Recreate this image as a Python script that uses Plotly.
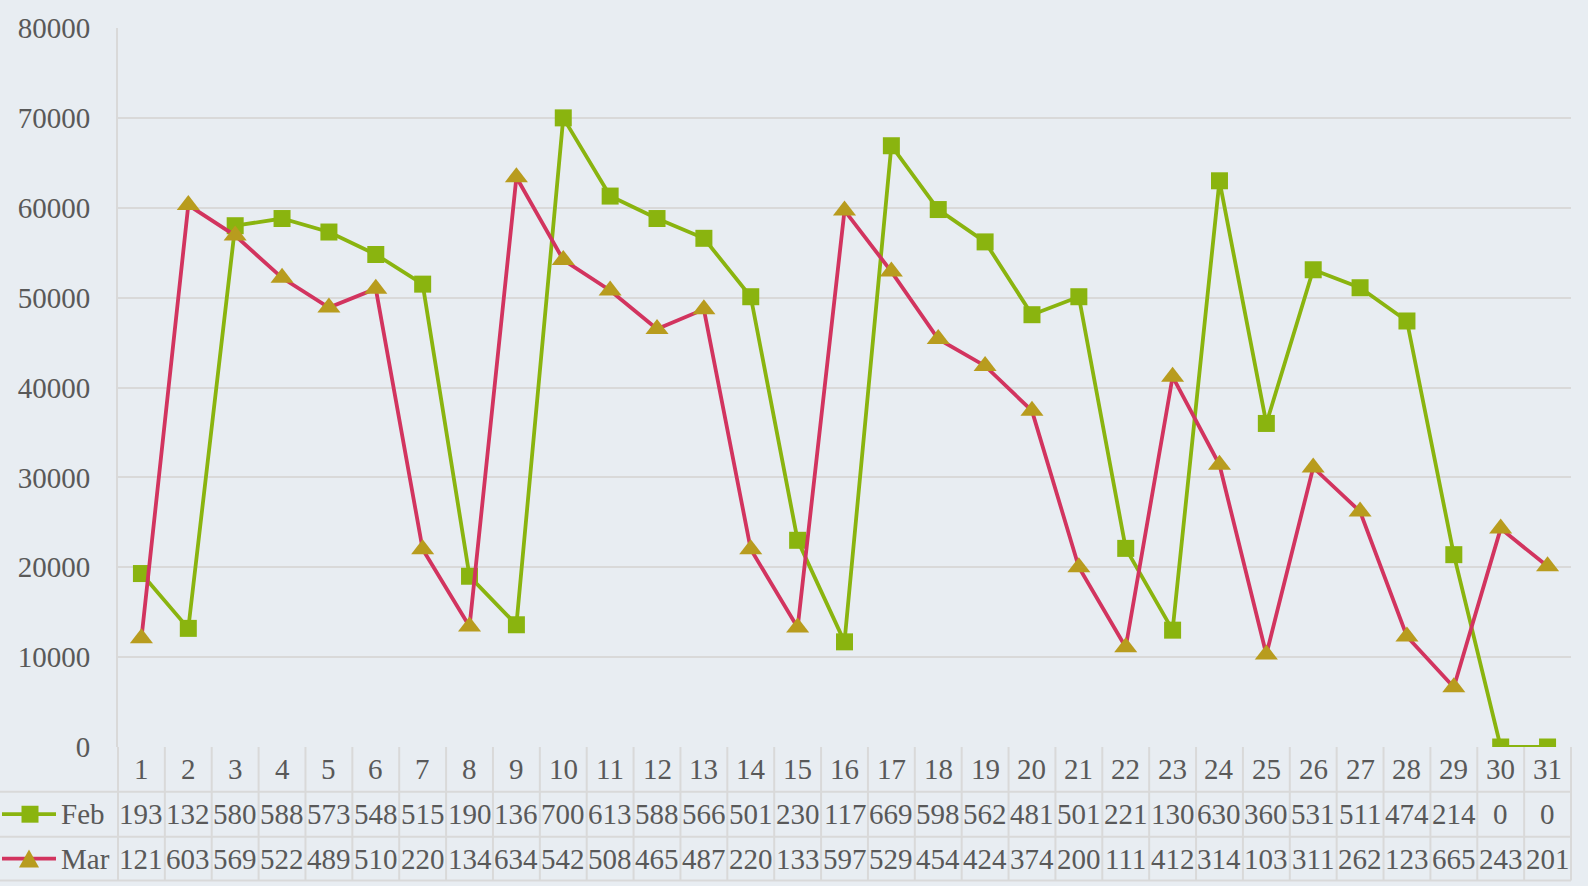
import plotly.graph_objects as go

days = list(range(1, 32))
feb = [19300, 13200, 58000, 58800, 57300, 54800, 51500, 19000, 13600, 70000,
       61300, 58800, 56600, 50100, 23000, 11700, 66900, 59800, 56200, 48100,
       50100, 22100, 13000, 63000, 36000, 53100, 51100, 47400, 21400, 0, 0]
mar = [12100, 60300, 56900, 52200, 48900, 51000, 22000, 13400, 63400, 54200,
       50800, 46500, 48700, 22000, 13300, 59700, 52900, 45400, 42400, 37400,
       20000, 11100, 41200, 31400, 10300, 31100, 26200, 12300, 6650, 24300, 20100]
series_names = ["Feb", "Mar"]

W, H = 1588, 886
L, R, T, B = 118, 17, 25, 139
PW, PH = W - L - R, H - T - B

def px(x):
    return (x - L) / PW

def py(y):
    return (H - B - y) / PH

GREEN = "#8AB40F"
RED = "#D2345F"
GOLD = "#B89C1E"
TEXT = "#595959"
GRID = "#D9D9D9"
BG = "#E8EDF2"
FONT = "Liberation Serif"
FS = 29

fig = go.Figure()
fig.add_trace(go.Scatter(x=days, y=feb, name="Feb", mode="lines+markers",
                         line=dict(color=GREEN, width=3.8),
                         marker=dict(symbol="square", size=17, color=GREEN)))
fig.add_trace(go.Scatter(x=days, y=mar, name="Mar", mode="lines+markers",
                         line=dict(color=RED, width=3.8),
                         marker=dict(symbol="triangle-up", size=20, color=GOLD)))

shapes = []
annotations = []
col_w = PW / 31
y0, y1, y2, y3 = 747, 792, 837, 881
# table vertical lines
for k in range(32):
    xx = L + k * col_w
    shapes.append(dict(type="line", xref="paper", yref="paper",
                       x0=px(xx), x1=px(xx), y0=py(y0), y1=py(y3),
                       line=dict(color=GRID, width=2)))
for yy in (y1, y2, y3):
    shapes.append(dict(type="line", xref="paper", yref="paper",
                       x0=px(0), x1=px(L + PW), y0=py(yy), y1=py(yy),
                       line=dict(color=GRID, width=2)))

rows = [(feb, (y1 + y2) / 2), (mar, (y2 + y3) / 2)]
for i, d in enumerate(days):
    annotations.append(dict(x=d, xref="x", y=py((y0 + y1) / 2), yref="paper",
                            xanchor="center", yanchor="middle",
                            text=str(d), showarrow=False,
                            font=dict(family=FONT, size=FS, color=TEXT)))
    for vals, yc in rows:
        annotations.append(dict(x=d, xref="x", y=py(yc), yref="paper",
                                xanchor="center", yanchor="middle",
                                text=str(vals[i])[:3], showarrow=False,
                                font=dict(family=FONT, size=FS, color=TEXT)))

# legend keys in table
for name, (vals, yc), col, mcol, sym in [("Feb", rows[0], GREEN, GREEN, "sq"),
                                         ("Mar", rows[1], RED, GOLD, "tri")]:
    shapes.append(dict(type="line", xref="paper", yref="paper",
                       x0=px(2), x1=px(56), y0=py(yc), y1=py(yc),
                       line=dict(color=col, width=3.8)))
    if sym == "sq":
        shapes.append(dict(type="rect", xref="paper", yref="paper",
                           x0=px(21.5), x1=px(38.5), y0=py(yc - 8.5), y1=py(yc + 8.5),
                           fillcolor=mcol, line=dict(width=0)))
    else:
        path = "M {} {} L {} {} L {} {} Z".format(px(19), py(yc + 9), px(39), py(yc + 9),
                                               px(29), py(yc - 9))
        shapes.append(dict(type="path", xref="paper", yref="paper", path=path,
                           fillcolor=mcol, line=dict(width=0)))
    annotations.append(dict(x=px(59), xref="paper", y=py(yc), yref="paper",
                            xanchor="left", yanchor="middle", text=name, showarrow=False,
                            font=dict(family=FONT, size=FS, color=TEXT)))

fig.update_layout(
    width=W, height=H,
    margin=dict(l=L, r=R, t=T, b=B, pad=0),
    paper_bgcolor=BG, plot_bgcolor=BG,
    showlegend=False,
    shapes=shapes, annotations=annotations,
    font=dict(family=FONT, size=FS, color=TEXT),
)
fig.update_xaxes(range=[0.5, 31.5], showgrid=False, zeroline=False,
                 showticklabels=False, showline=False)
fig.update_yaxes(range=[0, 80000], dtick=10000, tickformat="d", showgrid=True,
                 gridcolor=GRID, gridwidth=2, zeroline=False, showline=True,
                 linecolor=GRID, linewidth=2, ticks="", ticklabelstandoff=20,
                 tickfont=dict(family=FONT, size=FS, color=TEXT))

fig.write_html("out.html", config={"displayModeBar": False},
               post_script="document.body.style.margin='0';")
